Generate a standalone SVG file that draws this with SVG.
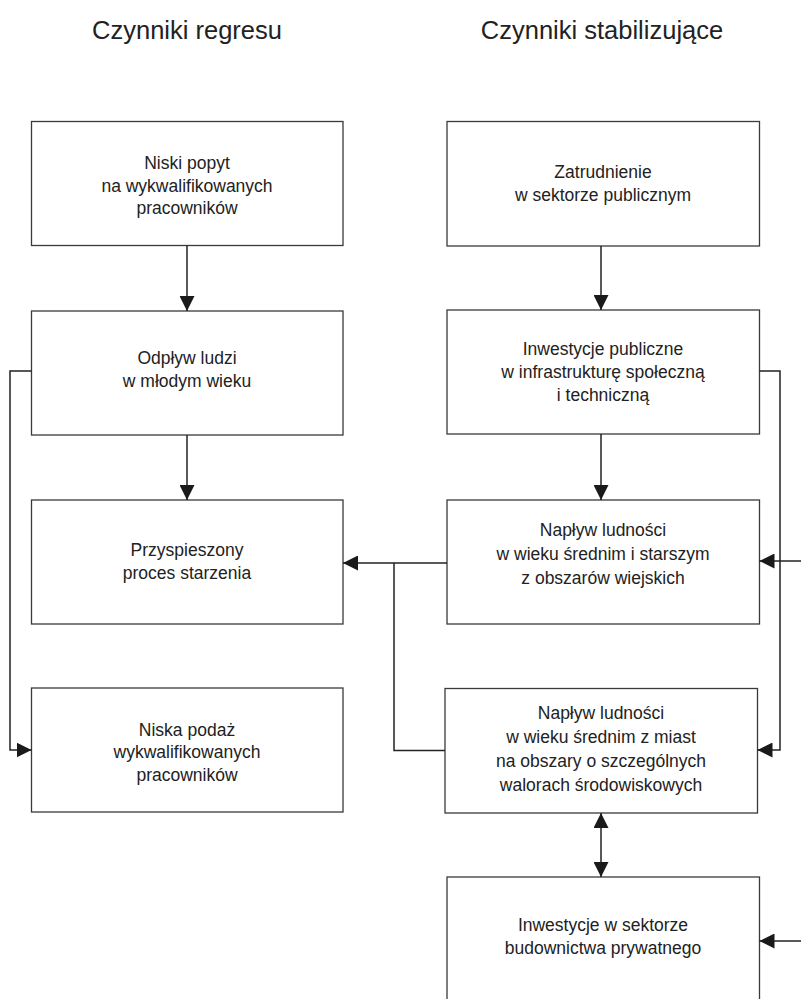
<svg xmlns="http://www.w3.org/2000/svg" width="801" height="999" viewBox="0 0 801 999">
<defs>
<style>
.box{fill:#fff;stroke:#3a3a3a;stroke-width:1.3}
.t{font-family:"Liberation Sans",Arial,sans-serif;font-size:17.5px;fill:#222;text-anchor:middle}
.title{font-family:"Liberation Sans",Arial,sans-serif;font-size:25.5px;fill:#222;text-anchor:middle}
.c{fill:none;stroke:#222;stroke-width:1.5}
</style>
<marker id="ah" markerUnits="userSpaceOnUse" markerWidth="16" markerHeight="15" refX="15" refY="7.5" orient="auto-start-reverse">
<path d="M0,0 L15,7.5 L0,15 z" fill="#1a1a1a"/>
</marker>
</defs>
<rect width="801" height="999" fill="#fff"/>
<text class="title" x="187" y="39">Czynniki regresu</text>
<text class="title" x="602" y="39">Czynniki stabilizujące</text>

<g id="n1"><rect class="box" x="31.5" y="121.5" width="311.5" height="124"/>
<text class="t" x="187" y="169">Niski popyt</text><text class="t" x="187" y="192">na wykwalifikowanych</text><text class="t" x="187" y="214">pracowników</text></g>
<g id="n2"><rect class="box" x="31.5" y="311" width="311.5" height="124"/>
<text class="t" x="187" y="364">Odpływ ludzi</text><text class="t" x="187" y="387">w młodym wieku</text></g>
<g id="n3"><rect class="box" x="31.5" y="500" width="311.5" height="124"/>
<text class="t" x="187" y="556">Przyspieszony</text><text class="t" x="187" y="579">proces starzenia</text></g>
<g id="n4"><rect class="box" x="31.5" y="688" width="311.5" height="124"/>
<text class="t" x="187" y="736">Niska podaż</text><text class="t" x="187" y="758">wykwalifikowanych</text><text class="t" x="187" y="781">pracowników</text></g>

<g id="n5"><rect class="box" x="447" y="121.5" width="312.5" height="124.5"/>
<text class="t" x="603" y="178">Zatrudnienie</text><text class="t" x="603" y="201">w sektorze publicznym</text></g>
<g id="n6"><rect class="box" x="447" y="310" width="312.5" height="124"/>
<text class="t" x="603" y="355">Inwestycje publiczne</text><text class="t" x="603" y="378">w infrastrukturę społeczną</text><text class="t" x="603" y="401">i techniczną</text></g>
<g id="n7"><rect class="box" x="447" y="500" width="312.5" height="124"/>
<text class="t" x="603" y="536">Napływ ludności</text><text class="t" x="603" y="560">w wieku średnim i starszym</text><text class="t" x="603" y="584">z obszarów wiejskich</text></g>
<g id="n8"><rect class="box" x="445" y="688.5" width="312.5" height="124.5"/>
<text class="t" x="601" y="719">Napływ ludności</text><text class="t" x="601" y="743">w wieku średnim z miast</text><text class="t" x="601" y="767">na obszary o szczególnych</text><text class="t" x="601" y="791">walorach środowiskowych</text></g>
<g id="n9"><rect class="box" x="447" y="877" width="312.5" height="140"/>
<text class="t" x="603" y="931">Inwestycje w sektorze</text><text class="t" x="603" y="954">budownictwa prywatnego</text></g>

<g id="connectors">
<path class="c" d="M187,245.5 V311" marker-end="url(#ah)"/>
<path class="c" d="M187,435 V500" marker-end="url(#ah)"/>
<path class="c" d="M601,246 V310" marker-end="url(#ah)"/>
<path class="c" d="M601,434 V500" marker-end="url(#ah)"/>
<path class="c" d="M31.5,371 H10 V750 H31.5" marker-end="url(#ah)"/>
<path class="c" d="M759.5,371 H780 V750 H757.5" marker-end="url(#ah)"/>
<path class="c" d="M801,561 H759.5" marker-end="url(#ah)"/>
<path class="c" d="M801,941 H759.5" marker-end="url(#ah)"/>
<path class="c" d="M447,563 H343" marker-end="url(#ah)"/>
<path class="c" d="M394,563 V750.5 H445"/>
<path class="c" d="M601,813 V877" marker-start="url(#ah)" marker-end="url(#ah)"/>
</g>
</svg>
